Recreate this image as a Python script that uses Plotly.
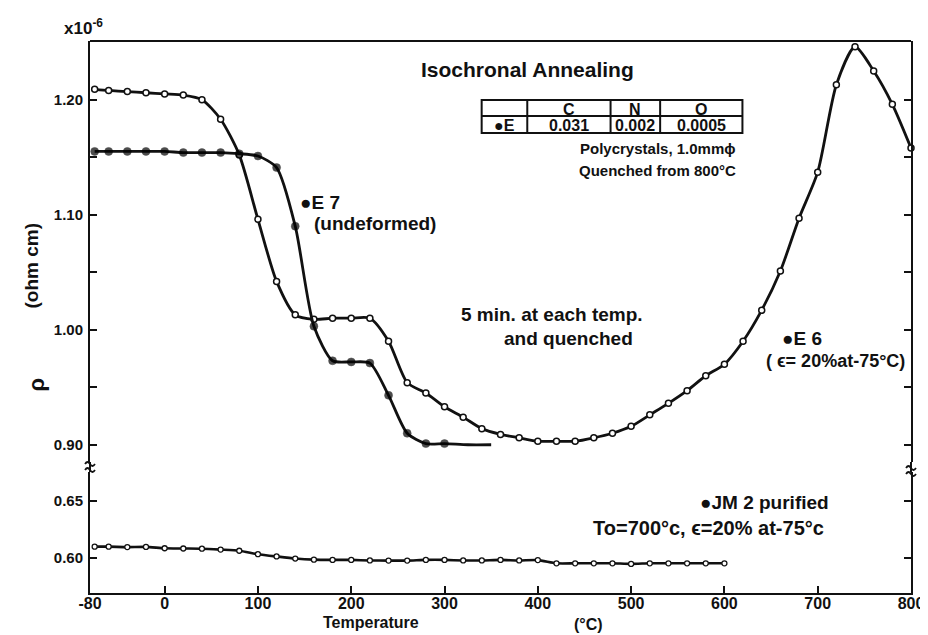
import plotly.graph_objects as go

# ---------------- data ----------------
temp_e6 = [-75, -60, -40, -20, 0, 20, 40, 60, 80, 100, 120, 140, 160, 180, 200, 220,
           240, 260, 280, 300, 320, 340, 360, 380, 400, 420, 440, 460, 480, 500, 520,
           540, 560, 580, 600, 620, 640, 660, 680, 700, 720, 740, 760, 780, 800]
rho_e6 = [1.209, 1.208, 1.207, 1.206, 1.205, 1.204, 1.200, 1.183, 1.152, 1.096, 1.042,
          1.013, 1.009, 1.010, 1.010, 1.010, 0.990, 0.954, 0.945, 0.933, 0.924, 0.914,
          0.909, 0.906, 0.903, 0.903, 0.903, 0.906, 0.910, 0.916, 0.926, 0.936, 0.947,
          0.960, 0.970, 0.990, 1.017, 1.051, 1.097, 1.137, 1.213, 1.246, 1.225, 1.196, 1.158]

temp_e7 = [-75, -60, -40, -20, 0, 20, 40, 60, 80, 100, 120, 140, 160, 180, 200, 220,
           240, 260, 280, 300, 325, 350]
rho_e7 = [1.155, 1.155, 1.155, 1.155, 1.155, 1.154, 1.154, 1.154, 1.153, 1.151, 1.141,
          1.090, 1.003, 0.973, 0.972, 0.971, 0.943, 0.910, 0.901, 0.901, 0.900, 0.900]

temp_jm2 = [-75, -60, -40, -20, 0, 20, 40, 60, 80, 100, 120, 140, 160, 180, 200, 220,
            240, 260, 280, 300, 320, 340, 360, 380, 400, 420, 440, 460, 480, 500, 520,
            540, 560, 580, 600]
rho_jm2 = [0.6096, 0.6096, 0.6092, 0.6094, 0.6082, 0.6080, 0.6078, 0.6070, 0.6060,
           0.6030, 0.6010, 0.5992, 0.5982, 0.5980, 0.5980, 0.5975, 0.5974, 0.5974,
           0.5980, 0.5980, 0.5975, 0.5975, 0.5980, 0.5975, 0.5978, 0.5950, 0.5950,
           0.5950, 0.5950, 0.5945, 0.5950, 0.5950, 0.5950, 0.5950, 0.5950]

x_ticks = [-80, 0, 100, 200, 300, 400, 500, 600, 700, 800]
y_upper_ticks = [0.90, 1.00, 1.10, 1.20]
y_upper_minor = [0.95, 1.05, 1.15]
y_lower_ticks = [0.60, 0.65]

table_header = ["", "C", "N", "O"]
table_row = ["●E", "0.031", "0.002", "0.0005"]

# ---------------- layout helpers ----------------
W, H = 928, 635
L, R, T, B = 82, 910, 33, 585


def px(x):
    return (x - L) / (R - L)


def py(y):
    return (B - y) / (B - T)


FONT = "Liberation Sans"
BLACK = "#111111"

fig = go.Figure()

fig.add_trace(go.Scatter(
    x=temp_e6, y=rho_e6, xaxis="x", yaxis="y", mode="lines+markers",
    line=dict(color=BLACK, width=2.8, shape="spline", smoothing=0.7),
    marker=dict(symbol="circle", size=6, color="white", line=dict(color=BLACK, width=1.5)),
    cliponaxis=False, showlegend=False))

fig.add_trace(go.Scatter(
    x=temp_e7, y=rho_e7, xaxis="x", yaxis="y", mode="lines+markers",
    line=dict(color=BLACK, width=2.8, shape="spline", smoothing=0.7),
    marker=dict(symbol="circle", size=[8] * 20 + [0, 0], color="black",
                line=dict(color="black", width=0.5)),
    showlegend=False))

fig.add_trace(go.Scatter(
    x=temp_jm2, y=rho_jm2, xaxis="x", yaxis="y2", mode="lines+markers",
    line=dict(color=BLACK, width=2.6, shape="spline", smoothing=0.6),
    marker=dict(symbol="circle", size=5, color="white", line=dict(color=BLACK, width=1.3)),
    showlegend=False))

low_top = 0.2192
up_bot = 0.2373

axis_font = dict(family=FONT, size=15, color=BLACK, weight="bold")

fig.update_layout(
    width=W, height=H,
    margin=dict(l=L, r=W - R, t=T, b=H - B),
    paper_bgcolor="white", plot_bgcolor="white",
    xaxis=dict(domain=[0, 1], anchor="y2", range=[-80, 800], tickvals=x_ticks,
               ticktext=[str(v) for v in x_ticks], ticks="inside", ticklen=7,
               tickwidth=1.5, tickcolor=BLACK, showline=True, linecolor=BLACK,
               linewidth=2, showgrid=False, zeroline=False, ticklabelstandoff=-5,
               tickfont=dict(family=FONT, size=16, color=BLACK, weight="bold")),
    yaxis=dict(domain=[up_bot, 1], anchor="x", range=[0.885, 1.251], tickvals=y_upper_ticks,
               ticktext=["0.90", "1.00", "1.10", "1.20"], ticks="inside", ticklen=7,
               tickwidth=1.5, tickcolor=BLACK, showline=True, linecolor=BLACK, linewidth=2,
               mirror="ticks", showgrid=False, zeroline=False, tickfont=axis_font,
               ticklabelstandoff=2,
               minor=dict(tickvals=y_upper_minor, ticks="inside", ticklen=7, tickwidth=1.5,
                          tickcolor=BLACK)),
    yaxis2=dict(domain=[0, low_top], anchor="x", range=[0.569, 0.675], tickvals=y_lower_ticks,
                ticktext=["0.60", "0.65"], ticks="inside", ticklen=7, tickwidth=1.5,
                tickcolor=BLACK, showline=True, linecolor=BLACK, linewidth=2,
                mirror="ticks", showgrid=False, zeroline=False, tickfont=axis_font,
                ticklabelstandoff=2),
)

shapes = []
# top border and gap connectors at the axis break
shapes.append(dict(type="line", xref="paper", yref="paper", x0=0, x1=1, y0=1, y1=1,
                   line=dict(color=BLACK, width=2)))
for xx in (0, 1):
    shapes.append(dict(type="line", xref="paper", yref="paper", x0=xx, x1=xx,
                       y0=low_top, y1=up_bot, line=dict(color=BLACK, width=2)))

# axis-break squiggles (two small tildes across each vertical axis)
for axx, yc in ((L, 459), (R, 463)):
    for dy in (-3, 3):
        y0 = yc + dy
        path = "M {:.5f},{:.5f} Q {:.5f},{:.5f} {:.5f},{:.5f} T {:.5f},{:.5f}".format(
            px(axx - 5), py(y0), px(axx - 2.5), py(y0 - 4), px(axx), py(y0),
            px(axx + 5), py(y0))
        shapes.append(dict(type="path", xref="paper", yref="paper", path=path,
                           line=dict(color=BLACK, width=1.8)))

# composition table
tx = [477, 523, 607, 657, 740]
ty = [92, 108, 125]
shapes.append(dict(type="rect", xref="paper", yref="paper", x0=px(tx[0]), x1=px(tx[-1]),
                   y0=py(ty[0]), y1=py(ty[-1]), line=dict(color=BLACK, width=2)))
shapes.append(dict(type="line", xref="paper", yref="paper", x0=px(tx[0]), x1=px(tx[-1]),
                   y0=py(ty[1]), y1=py(ty[1]), line=dict(color=BLACK, width=2)))
for xv in tx[1:-1]:
    shapes.append(dict(type="line", xref="paper", yref="paper", x0=px(xv), x1=px(xv),
                       y0=py(ty[0]), y1=py(ty[-1]), line=dict(color=BLACK, width=2)))
fig.update_layout(shapes=shapes)

ann = []


def text(x, y, s, size=16, xanchor="center", angle=0, bold=True):
    ann.append(dict(xref="paper", yref="paper", x=px(x), y=py(y),
                    text=("<b>%s</b>" % s) if bold else s,
                    showarrow=False, xanchor=xanchor, yanchor="middle", textangle=angle,
                    font=dict(family=FONT, size=size, color=BLACK)))


for i in range(4):
    cx = (tx[i] + tx[i + 1]) / 2
    if table_header[i]:
        text(cx, (ty[0] + ty[1]) / 2 + 1, table_header[i], size=16)
    if table_row[i]:
        text(cx, (ty[1] + ty[2]) / 2 + 1, table_row[i], size=16)

text(54, 19, "x10<sup>-6</sup>", size=17, xanchor="left")
text(523, 61, "Isochronal Annealing", size=21)
text(736, 140, "Polycrystals, 1.0mmϕ", size=15, xanchor="right")
text(736, 162, "Quenched from 800°C", size=15, xanchor="right")
text(292, 195, "●E 7", size=19, xanchor="left")
text(306, 215, "(undeformed)", size=19, xanchor="left")
text(548, 306, "5 min. at each temp.", size=19)
text(565, 330, "and quenched", size=19)
text(778, 330, "●E 6", size=19, xanchor="left")
text(762, 353, "( ϵ= 20%at-75°C)", size=18, xanchor="left")
text(695, 495, "●JM 2 purified", size=19, xanchor="left")
text(587, 520, "To=700°c, ϵ=20% at-75°c", size=20, xanchor="left")
text(365, 614, "Temperature", size=16)
text(585, 616, "(°C)", size=16)
text(22, 258, "(ohm cm)", size=19, angle=-90)
text(28, 376, "ρ", size=22, angle=-90)

fig.update_layout(annotations=ann)

fig.write_html("out.html")
